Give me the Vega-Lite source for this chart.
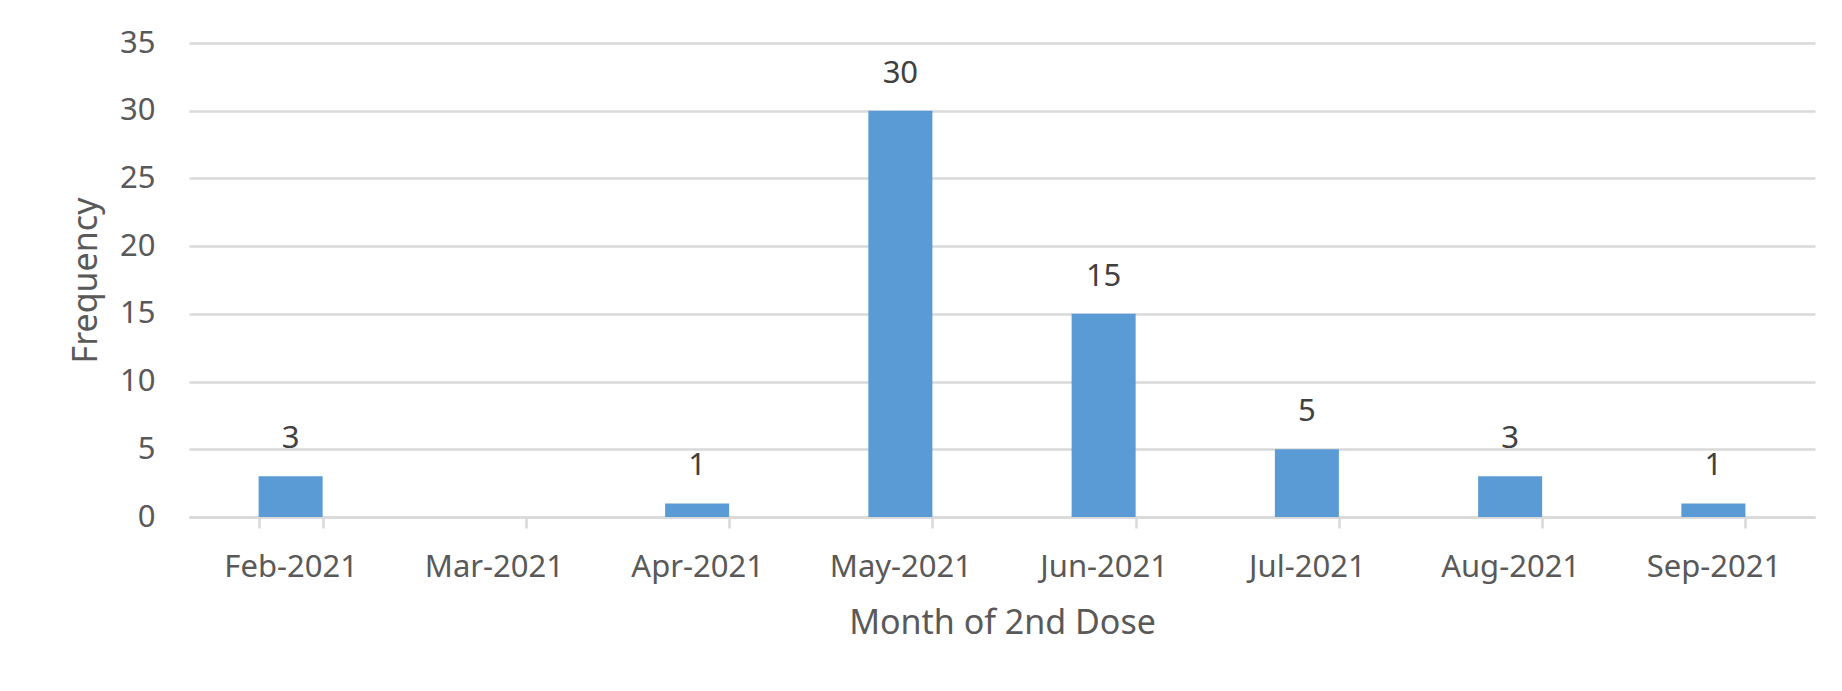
{
  "$schema": "https://vega.github.io/schema/vega-lite/v6.json",
  "autosize": "none",
  "width": 1626,
  "height": 474,
  "padding": {"left": 189, "top": 43, "right": 27, "bottom": 174},
  "background": "white",
  "config": {"view": {"stroke": null}, "font": "Noto Sans"},
  "data": {"values": [
    {"month": "Feb-2021", "freq": 3},
    {"month": "Mar-2021", "freq": null},
    {"month": "Apr-2021", "freq": 1},
    {"month": "May-2021", "freq": 30},
    {"month": "Jun-2021", "freq": 15},
    {"month": "Jul-2021", "freq": 5},
    {"month": "Aug-2021", "freq": 3},
    {"month": "Sep-2021", "freq": 1}
  ]},
  "encoding": {
    "x": {"field": "month", "type": "nominal", "sort": null,
      "scale": {"domain": ["Feb-2021", "Mar-2021", "Apr-2021", "May-2021", "Jun-2021", "Jul-2021", "Aug-2021", "Sep-2021"], "paddingInner": 0.685, "paddingOuter": 0.3425},
      "axis": {"title": "Month of 2nd Dose", "labelAngle": 0, "labelFontSize": 31, "labelColor": "#595959",
        "titleFontSize": 34, "titleColor": "#595959", "titleFontWeight": "normal", "titlePadding": 24,
        "domainColor": "#d9d9d9", "domainWidth": 2.5, "tickColor": "#d9d9d9", "tickWidth": 2.5, "tickSize": 11,
        "tickBand": "extent", "labelPadding": 24, "grid": false}},
    "y": {"field": "freq", "type": "quantitative",
      "scale": {"domain": [0, 35]},
      "axis": {"title": "Frequency", "values": [0,5,10,15,20,25,30,35], "labelFontSize": 31, "labelColor": "#595959",
        "titleFontSize": 34, "titleColor": "#595959", "titleFontWeight": "normal", "titlePadding": 16,
        "domain": false, "ticks": false, "labelPadding": 34, "gridColor": "#d9d9d9", "gridWidth": 2.5}}
  },
  "layer": [
    {"mark": {"type": "bar", "color": "#5b9bd5"}},
    {"mark": {"type": "text", "baseline": "bottom", "dy": -21, "fontSize": 31, "color": "#404040"},
      "encoding": {"text": {"field": "freq", "type": "quantitative"}}}
  ]
}
